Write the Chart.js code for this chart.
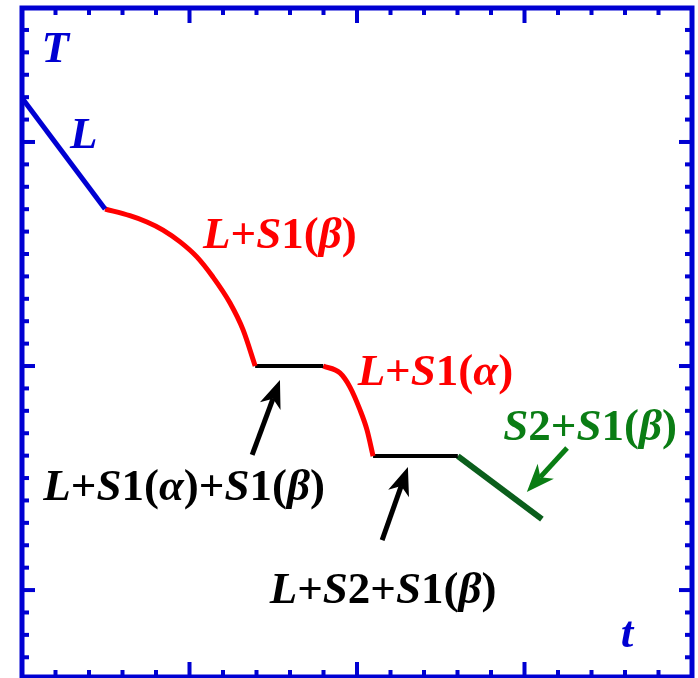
<!DOCTYPE html>
<html>
<head>
<meta charset="utf-8">
<script src="https://cdn.jsdelivr.net/npm/chart.js@4.4.1/dist/chart.umd.min.js"></script>
<style>
  html, body { margin: 0; padding: 0; background: #fff; }
  canvas { display: block; }
</style>
</head>
<body>
<canvas id="cooling" width="698" height="678"></canvas>
<script>
// time axis in minor-tick units, temperature in minor-tick units
const liquidTime = [0, 2.48];
const liquidTemp = [21.96, 17.01];
const beta1Time = [2.48, 3.22, 3.73, 4.21, 4.72, 5.22, 5.70, 6.21, 6.60, 6.96];
const beta1Temp = [17.01, 16.71, 16.43, 16.07, 15.54, 14.87, 13.97, 12.81, 11.61, 10.0];
const eutecticTime = [6.96, 8.99];
const eutecticTemp = [10.0, 10.0];
const alphaTime = [8.99, 9.49, 9.79, 10.09, 10.30, 10.48];
const alphaTemp = [10.0, 9.69, 9.06, 8.04, 7.14, 5.98];
const peritecticTime = [10.48, 13.01];
const peritecticTemp = [5.98, 5.98];
const solidTime = [13.01, 15.52];
const solidTemp = [5.98, 3.17];

const xTicks = Array.from({ length: 21 }, (_, i) => i);
const yTicks = Array.from({ length: 29 }, (_, i) => i - 3);

const BLUE = '#0000d2';
const RED = '#ff0000';
const GREEN_LINE = '#0b5e1c';
const GREEN_TEXT = '#0a7d14';
const FAMILY = '"Times New Roman", "Liberation Serif", Tinos, serif';
const TEXT_SIZE = 45;

function pts(xs, ys) { return xs.map((x, i) => ({ x: x, y: ys[i] })); }

function seg(xs, ys, color, width, curved) {
  return {
    data: pts(xs, ys),
    borderColor: color,
    borderWidth: width,
    pointRadius: 0,
    cubicInterpolationMode: curved ? 'monotone' : 'default',
    tension: 0,
    fill: false
  };
}

// annotation text, positions in data units (center x, baseline y)
const labels = [
  { text: 'T', x: 0.99, y: 23.57, color: BLUE },
  { text: 'L', x: 1.84, y: 19.73, color: BLUE },
  { text: 'L+S1(β)', x: 7.70, y: 15.27, color: RED },
  { text: 'L+S1(α)', x: 12.34, y: 9.15, color: RED },
  { text: 'S2+S1(β)', x: 16.96, y: 6.70, color: GREEN_TEXT },
  { text: 'L+S1(α)+S1(β)', x: 4.84, y: 4.02, color: '#000' },
  { text: 'L+S2+S1(β)', x: 10.78, y: -0.58, color: '#000' },
  { text: 't', x: 18.06, y: -2.54, color: BLUE }
];

const arrows = [
  { from: [6.87, 6.03], to: [7.70, 9.38], color: '#000' },
  { from: [10.75, 2.23], to: [11.52, 5.49], color: '#000' },
  { from: [16.27, 6.34], to: [15.07, 4.38], color: GREEN_TEXT }
];

function fontFor(italic, size) {
  return (italic ? 'italic ' : '') + 'bold ' + size + 'px ' + FAMILY;
}

// letters italic, digits / signs / brackets upright
function richText(ctx, text, x, y, size, color) {
  const parts = [];
  for (const ch of text) {
    const it = /[A-Za-zα-ω]/.test(ch);
    const last = parts[parts.length - 1];
    if (last && last.it === it) last.s += ch; else parts.push({ s: ch, it: it });
  }
  let total = 0;
  parts.forEach(p => { ctx.font = fontFor(p.it, size); p.w = ctx.measureText(p.s).width; total += p.w; });
  let cx = x - total / 2;
  ctx.fillStyle = color;
  ctx.textBaseline = 'alphabetic';
  ctx.textAlign = 'left';
  parts.forEach(p => { ctx.font = fontFor(p.it, size); ctx.fillText(p.s, cx, y); cx += p.w; });
}

function drawArrow(ctx, x0, y0, x1, y1, color) {
  const ang = Math.atan2(y1 - y0, x1 - x0);
  const len = 28, half = 11, notch = 8;
  const cos = Math.cos(ang), sin = Math.sin(ang);
  ctx.strokeStyle = color;
  ctx.fillStyle = color;
  ctx.lineWidth = 5;
  ctx.lineCap = 'butt';
  ctx.beginPath();
  ctx.moveTo(x0, y0);
  ctx.lineTo(x1 - cos * (len - notch), y1 - sin * (len - notch));
  ctx.stroke();
  const bx = x1 - cos * len, by = y1 - sin * len;
  ctx.beginPath();
  ctx.moveTo(x1, y1);
  ctx.lineTo(bx - sin * half, by + cos * half);
  ctx.lineTo(x1 - cos * (len - notch), y1 - sin * (len - notch));
  ctx.lineTo(bx + sin * half, by - cos * half);
  ctx.closePath();
  ctx.fill();
}

const framePlugin = {
  id: 'frame',
  afterDatasetsDraw(chart) {
    const ctx = chart.ctx;
    const a = chart.chartArea;
    const xs = chart.scales.x, ys = chart.scales.y;
    ctx.save();
    // inward ticks on all four sides
    ctx.fillStyle = BLUE;
    xTicks.forEach(v => {
      const px = xs.getPixelForValue(v);
      const l = v % 5 === 0 ? 15 : 7;
      ctx.fillRect(px - 2, a.top, 4, l);
      ctx.fillRect(px - 2, a.bottom - l, 4, l);
    });
    yTicks.forEach(v => {
      const py = ys.getPixelForValue(v);
      const l = v % 10 === 0 ? 13 : 7;
      ctx.fillRect(a.left, py - 2, l, 4);
      ctx.fillRect(a.right - l, py - 2, l, 4);
    });
    ctx.strokeStyle = BLUE;
    ctx.lineWidth = 5;
    ctx.strokeRect(a.left, a.top, a.right - a.left, a.bottom - a.top);

    labels.forEach(l => {
      richText(ctx, l.text, xs.getPixelForValue(l.x), ys.getPixelForValue(l.y), TEXT_SIZE, l.color);
    });
    arrows.forEach(r => {
      drawArrow(ctx,
        xs.getPixelForValue(r.from[0]), ys.getPixelForValue(r.from[1]),
        xs.getPixelForValue(r.to[0]), ys.getPixelForValue(r.to[1]), r.color);
    });
    ctx.restore();
  }
};

function build() {
  new Chart(document.getElementById('cooling').getContext('2d'), {
    type: 'line',
    data: {
      datasets: [
        seg(liquidTime, liquidTemp, BLUE, 5, false),
        seg(beta1Time, beta1Temp, RED, 5, true),
        seg(eutecticTime, eutecticTemp, '#000', 4, false),
        seg(alphaTime, alphaTemp, RED, 5, true),
        seg(peritecticTime, peritecticTemp, '#000', 4, false),
        seg(solidTime, solidTemp, GREEN_LINE, 6, false)
      ]
    },
    options: {
      responsive: false,
      animation: false,
      layout: { padding: { left: 22, right: 6, top: 8, bottom: 1 } },
      plugins: { legend: { display: false }, tooltip: { enabled: false } },
      scales: {
        x: { type: 'linear', min: 0, max: 20, display: false },
        y: { type: 'linear', min: -3.88, max: 25.98, display: false }
      }
    },
    plugins: [framePlugin]
  });
}

Promise.all([
  document.fonts.load(fontFor(true, TEXT_SIZE), 'LSαβ'),
  document.fonts.load(fontFor(false, TEXT_SIZE), '+12()')
]).then(build, build);
</script>
</body>
</html>
